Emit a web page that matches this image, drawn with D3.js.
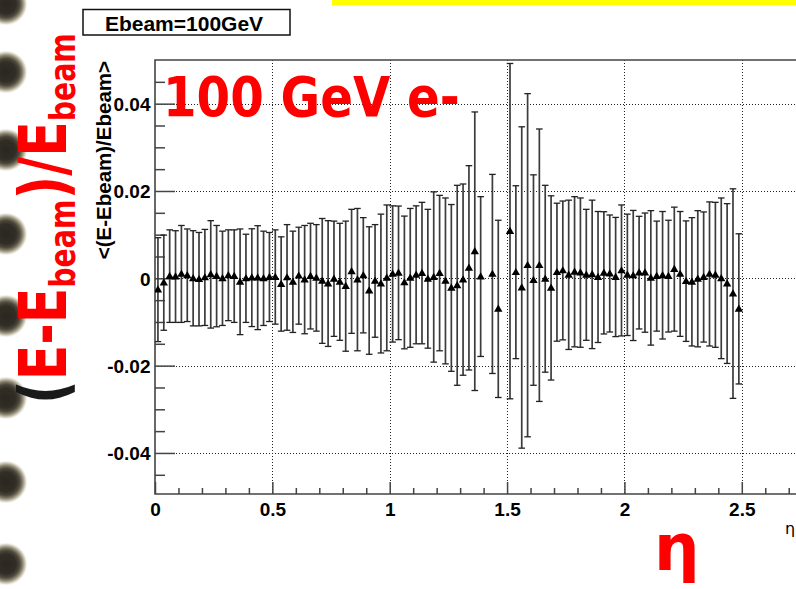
<!DOCTYPE html>
<html><head><meta charset="utf-8">
<script src="https://cdn.jsdelivr.net/npm/d3@7"></script>
<style>body{margin:0;background:#fff}svg{display:block}</style>
</head><body>
<svg id="c" width="796" height="589"></svg>
<script>
// ---------------- data ----------------
const etaCenters = [0.0125,0.0375,0.0625,0.0875,0.1125,0.1375,0.1625,0.1875,0.2125,0.2375,
0.2625,0.2875,0.3125,0.3375,0.3625,0.3875,0.4125,0.4375,0.4625,0.4875,
0.5125,0.5375,0.5625,0.5875,0.6125,0.6375,0.6625,0.6875,0.7125,0.7375,
0.7625,0.7875,0.8125,0.8375,0.8625,0.8875,0.9125,0.9375,0.9625,0.9875,
1.0125,1.0375,1.0625,1.0875,1.1125,1.1375,1.1625,1.1875,1.2125,1.2375,
1.2625,1.2875,1.3125,1.3375,1.3625,1.3875,1.4125,1.4375,1.4625,1.4875,
1.5125,1.5375,1.5625,1.5875,1.6125,1.6375,1.6625,1.6875,1.7125,1.7375,
1.7625,1.7875,1.8125,1.8375,1.8625,1.8875,1.9125,1.9375,1.9625,1.9875,
2.0125,2.0375,2.0625,2.0875,2.1125,2.1375,2.1625,2.1875,2.2125,2.2375,
2.2625,2.2875,2.3125,2.3375,2.3625,2.3875,2.4125,2.4375,2.4625,2.4875];
// <(E-Ebeam)/Ebeam>, in units of 1e-3
const meanVals = [-2.6,-1.0,0.5,0.4,1.0,0.7,0.0,-0.2,0.2,0.9,
0.5,0.0,0.7,0.5,-0.8,0.0,0.15,0.15,0.0,0.3,
0.3,-1.3,0.2,-0.8,0.6,-0.3,0.5,0.1,-0.6,-1.2,
-0.1,-0.8,-1.8,1.6,-0.3,0.7,-2.8,-0.6,-1.2,0.1,
1.0,1.25,-0.95,0.1,0.8,1.2,-0.1,0.3,1.2,-0.6,
-2.2,-1.6,-0.3,2.4,6.2,0.4,null,1.0,-7.0,null,
10.8,1.4,-2.1,3.0,-0.4,3.0,-0.1,-2.2,1.4,1.8,
0.8,1.5,1.3,0.8,0.9,0.3,1.25,1.1,0.3,1.8,
0.8,0.65,1.3,1.3,0.1,0.5,0.7,0.5,2.1,1.0,
-0.65,-0.8,-0.1,0.3,1.0,0.8,0.0,-1.2,-3.5,-7.0];
const errVals = [11.9,10.9,10.6,10.5,11.1,10.6,10.9,10.7,11.0,12.3,
11.6,10.8,10.4,10.6,12.1,10.1,11.2,11.9,10.8,10.2,
10.8,10.8,12.1,11.6,11.1,12.4,12.1,12.2,14.3,14.4,
13.2,13.4,14.9,14.2,16.3,13.2,14.6,12.9,15.9,16.7,
15.6,15.3,15.2,15.9,15.8,16.2,15.9,19.5,17.8,19.0,
19.1,22.9,21.9,23.4,31.9,18.3,null,22.8,20.3,null,
38.4,19.8,36.8,39.3,24.1,31.2,21.4,21.1,15.8,15.9,
17.1,17.2,17.1,15.0,17.0,15.0,14.0,13.4,13.65,15.0,
13.9,14.9,12.9,13.65,15.4,12.6,14.6,12.8,14.2,14.3,
13.8,14.7,15.6,14.9,16.5,16.6,18.4,18.3,24.0,17.2];
const xTickValues = [0,0.5,1,1.5,2,2.5];
const xTickLabels = ["0","0.5","1","1.5","2","2.5"];
const yTickValues = [-0.04,-0.02,0,0.02,0.04];
const yTickLabels = ["-0.04","-0.02","0","0.02","0.04"];
const boxLabel = "Ebeam=100GeV";
const yTitle = "<(E-Ebeam)/Ebeam>";
const xTitle = "η";
const bigLabel = "100 GeV e-";

// ---------------- drawing ----------------
const svg = d3.select("#c");
const W = 796, H = 589;
svg.append("rect").attr("width",W).attr("height",H).attr("fill","#fff");

const L = 155, T = 60, B = 494, R = 812.2;
const x = d3.scaleLinear([0, 2.8], [L, R]);
const y = d3.scaleLinear([-0.0494, 0.05], [B, T]);

const defs = svg.append("defs");
const grad = defs.append("radialGradient").attr("id","ring");
[[0,"#2a2720",1],[0.45,"#322e26",1],[0.62,"#4d483c",1],[0.76,"#8c8672",1],[0.88,"#cdc8b4",0.85],[1,"#ffffff",0]]
  .forEach(s=>grad.append("stop").attr("offset",s[0]).attr("stop-color",s[1]).attr("stop-opacity",s[2]));
defs.append("clipPath").attr("id","plotclip").append("rect")
  .attr("x",L).attr("y",T).attr("width",W-L).attr("height",B-T);

// slide decorations: binder rings and yellow bar
const ringYs = [4, 72, 150, 234, 316, 398, 482, 564];
svg.append("g").selectAll("circle").data(ringYs).join("circle")
  .attr("cx",6).attr("cy",d=>d).attr("r",22).attr("fill","url(#ring)");
svg.append("rect").attr("x",332).attr("y",0).attr("width",W-332).attr("height",5).attr("fill","#ffff00");

// stat box
svg.append("rect").attr("x",83).attr("y",9.5).attr("width",207).attr("height",25.5)
  .attr("fill","#fff").attr("stroke","#111").attr("stroke-width",1.5);
svg.append("text").attr("x",184).attr("y",30.5).attr("text-anchor","middle")
  .attr("font-family","Liberation Sans, Arial, sans-serif").attr("font-weight","bold")
  .attr("font-size",21).attr("fill","#000").text(boxLabel);

// grid
const grid = svg.append("g").attr("stroke","#222").attr("stroke-width",1).attr("stroke-dasharray","1 2");
grid.selectAll("line.gx").data(xTickValues.filter(v=>v>0)).join("line")
  .attr("x1",d=>Math.round(x(d))+0.5).attr("x2",d=>Math.round(x(d))+0.5).attr("y1",T).attr("y2",B);
grid.selectAll("line.gy").data(yTickValues).join("line")
  .attr("y1",d=>Math.round(y(d))+0.5).attr("y2",d=>Math.round(y(d))+0.5).attr("x1",L).attr("x2",W);

// frame
const axc = "#444";
svg.append("path").attr("d",`M${W+5},${T}H${L}V${B}H${W+5}`).attr("fill","none")
  .attr("stroke",axc).attr("stroke-width",1.6);

// x axis ticks (major 0.5, minor 0.1)
const xAxisMajor = d3.axisBottom(x).tickValues(xTickValues).tickSize(-12).tickFormat((d,i)=>xTickLabels[i]).tickPadding(20);
const xAxisMinor = d3.axisBottom(x).tickValues(d3.range(0,28).map(k=>k/10).filter(v=>Math.abs(v*2-Math.round(v*2))>1e-6)).tickSize(-6).tickFormat("");
const gxm = svg.append("g").attr("transform",`translate(0,${B})`).call(xAxisMinor);
const gx = svg.append("g").attr("transform",`translate(0,${B})`).call(xAxisMajor);
[gx,gxm].forEach(g=>{g.select(".domain").remove();g.selectAll(".tick line").attr("stroke",axc).attr("stroke-width",1.5);});
gx.selectAll(".tick text").attr("font-family","Liberation Sans, Arial, sans-serif").attr("font-weight","bold")
  .attr("font-size",19).attr("fill","#000").attr("dy",0).attr("y",21.5);

// y axis ticks (major 0.02, minor 0.005)
const yAxisMajor = d3.axisLeft(y).tickValues(yTickValues).tickSize(-20).tickFormat((d,i)=>yTickLabels[i]).tickPadding(4.5);
const yMinorVals = d3.range(-9,10).map(k=>k*0.005).filter(v=>Math.abs(v/0.02-Math.round(v/0.02))>1e-6);
const yAxisMinor = d3.axisLeft(y).tickValues(yMinorVals).tickSize(-10).tickFormat("");
const gym = svg.append("g").attr("transform",`translate(${L},0)`).call(yAxisMinor);
const gy = svg.append("g").attr("transform",`translate(${L},0)`).call(yAxisMajor);
[gy,gym].forEach(g=>{g.select(".domain").remove();g.selectAll(".tick line").attr("stroke",axc).attr("stroke-width",1.5);});
gy.selectAll(".tick text").attr("font-family","Liberation Sans, Arial, sans-serif").attr("font-weight","bold")
  .attr("font-size",19).attr("fill","#000").attr("x",-4.5).attr("dy","0.36em");

// axis titles
svg.append("text").attr("transform","translate(111,61) rotate(-90)").attr("text-anchor","end")
  .attr("font-family","Liberation Sans, Arial, sans-serif").attr("font-weight","bold")
  .attr("font-size",20.5).attr("fill","#000").text(yTitle);
svg.append("text").attr("x",785).attr("y",534).attr("font-family","DejaVu Sans, sans-serif")
  .attr("font-size",16).attr("fill","#000").text(xTitle);

// data: error bars + markers
const pts = etaCenters.map((e,i)=>({x:e, m:meanVals[i]==null?null:meanVals[i]*1e-3, e:errVals[i]==null?null:errVals[i]*1e-3}))
  .filter(d=>d.m!==null);
const data = svg.append("g").attr("clip-path","url(#plotclip)");
data.selectAll("line.bar").data(pts).join("line").attr("class","bar")
  .attr("x1",d=>x(d.x)).attr("x2",d=>x(d.x)).attr("y1",d=>y(d.m+d.e)).attr("y2",d=>y(d.m-d.e))
  .attr("stroke","#3c3c3c").attr("stroke-width",1.7);
const caps = pts.flatMap(d=>[d.m+d.e, d.m-d.e].map(v=>({x:d.x, v})));
data.selectAll("line.cap").data(caps).join("line").attr("class","cap")
  .attr("x1",d=>x(d.x)-3.3).attr("x2",d=>x(d.x)+3.3).attr("y1",d=>y(d.v)).attr("y2",d=>y(d.v))
  .attr("stroke","#222").attr("stroke-width",1.3);
const tri = d3.symbol(d3.symbolTriangle, 30);
data.selectAll("path.mk").data(pts).join("path").attr("class","mk")
  .attr("transform",d=>`translate(${x(d.x)},${y(d.m)+0.5})`).attr("d",tri).attr("fill","#000");

// slide annotations (red)
const big = svg.append("text").attr("x",163).attr("y",116).attr("font-family","DejaVu Sans, sans-serif")
  .attr("font-weight","bold").attr("font-size",56).attr("fill","#ff0000").text(bigLabel);
const bw = big.node().getComputedTextLength();
big.attr("transform",`translate(163,0) scale(${297/bw},1) translate(-163,0)`);

const rg = svg.append("g");
const rt = rg.append("text").attr("font-family","DejaVu Sans, sans-serif").attr("font-weight","bold")
  .attr("font-size",66).attr("fill","#ff0000");
rt.append("tspan").attr("fill","#1a1a1a").text("(");
rt.append("tspan").text("E-E");
rt.append("tspan").attr("font-size",36).attr("dy",9).text("beam");
rt.append("tspan").attr("dy",-9).text(")/E");
rt.append("tspan").attr("font-size",36).attr("dy",9).text("beam");
const rw = rt.node().getBBox().width;
rg.attr("transform",`translate(66,404) rotate(-90) scale(${371/rw},1)`);

svg.append("text").attr("x",654).attr("y",570).attr("font-family","DejaVu Sans, sans-serif")
  .attr("font-weight","bold").attr("font-size",64).attr("fill","#ff0000").text("η");
</script>
</body></html>
